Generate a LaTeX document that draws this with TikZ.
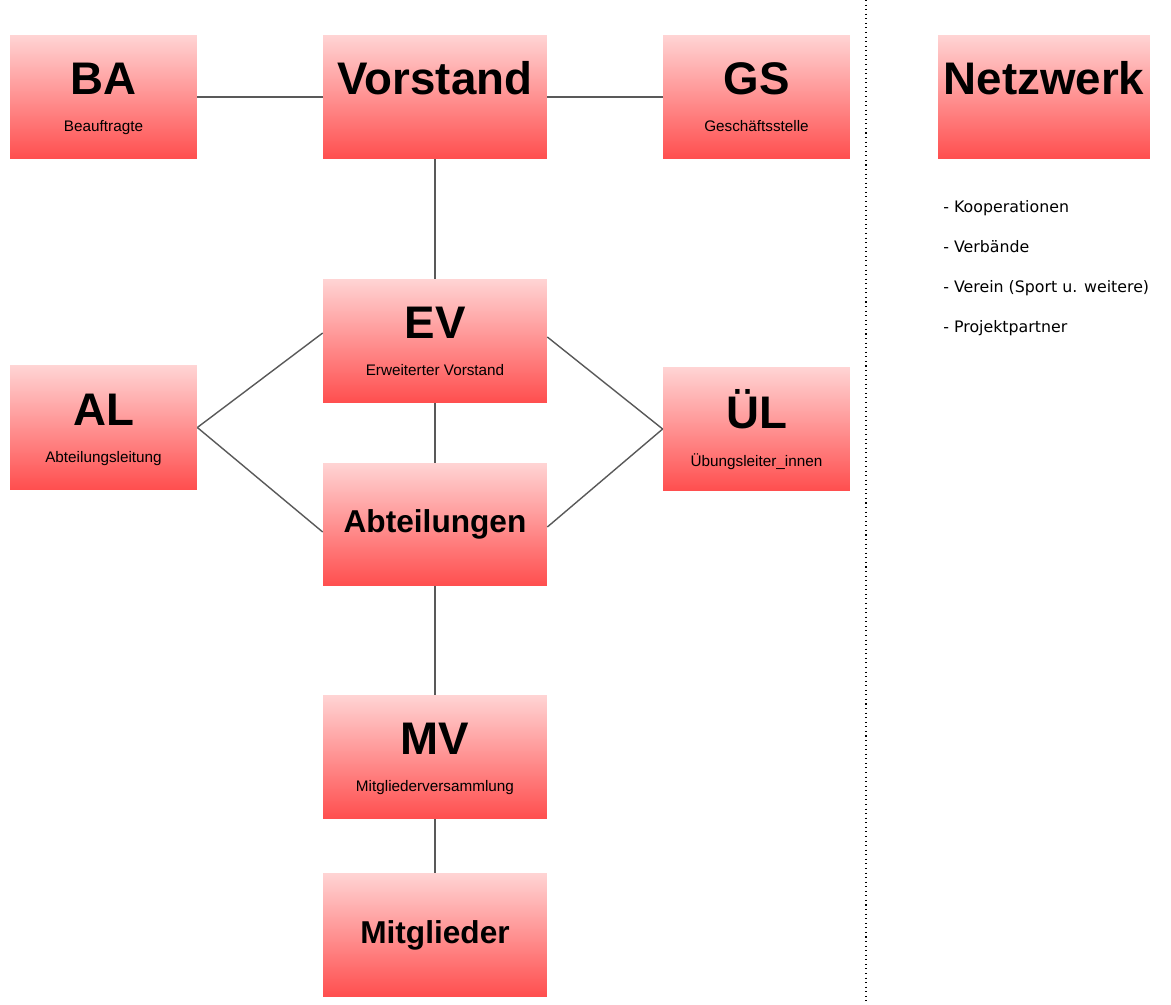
\documentclass[tikz,border=0pt]{standalone}
\usepackage{fontspec}
\setmainfont{Liberation Sans}
\newfontfamily\listfont{DejaVu Sans}
\definecolor{boxtop}{RGB}{255,212,212}
\definecolor{boxbot}{RGB}{255,78,78}
\tikzset{
  orgbox/.style={rectangle,inner sep=0pt,minimum width=3.74cm,minimum height=2.48cm,top color=boxtop,bottom color=boxbot},
  widebox/.style={orgbox,minimum width=4.48cm},
  bigtitle/.style={font=\fontsize{26}{30}\selectfont\bfseries,anchor=base},
  midtitle/.style={font=\fontsize{18}{22}\selectfont\bfseries},
  subtitle/.style={font=\fontsize{8.7}{10}\selectfont,anchor=base},
  listitem/.style={font=\listfont\fontsize{9}{11}\selectfont,anchor=base west,inner sep=0pt},
  link/.style={black!65,line width=0.8pt}
}
\begin{document}
\begin{tikzpicture}[x=0.02cm,y=-0.02cm]
\useasboundingbox (0,0) rectangle (1171,1005);
\node[orgbox] (ba) at (103.5,97) {};
\node[widebox] (vorstand) at (435,97) {};
\node[orgbox] (gs) at (756.5,97) {};
\node[orgbox,minimum width=4.24cm] (netz) at (1044,97) {};
\node[widebox] (ev) at (435,341) {};
\node[orgbox] (al) at (103.5,427.5) {};
\node[orgbox] (ul) at (756.5,429) {};
\node[widebox,minimum height=2.46cm] (abt) at (435,524.5) {};
\node[widebox] (mv) at (435,757) {};
\node[widebox] (mitgl) at (435,935) {};
\node[bigtitle] (ba-t) at ([yshift=-1.2cm]ba.north) {BA};
\node[subtitle] (ba-s) at ([yshift=-1.94cm]ba.north) {Beauftragte};
\node[bigtitle] (vorstand-t) at ([yshift=-1.2cm]vorstand.north) {Vorstand};
\node[bigtitle] (gs-t) at ([yshift=-1.2cm]gs.north) {GS};
\node[subtitle] (gs-s) at ([yshift=-1.94cm]gs.north) {Geschäftsstelle};
\node[bigtitle] (netz-t) at ([yshift=-1.2cm]netz.north) {Netzwerk};
\node[bigtitle] (ev-t) at ([yshift=-1.2cm]ev.north) {EV};
\node[subtitle] (ev-s) at ([yshift=-1.94cm]ev.north) {Erweiterter Vorstand};
\node[bigtitle] (al-t) at ([yshift=-1.2cm]al.north) {AL};
\node[subtitle] (al-s) at ([yshift=-1.94cm]al.north) {Abteilungsleitung};
\node[bigtitle] (ul-t) at ([yshift=-1.24cm]ul.north) {ÜL};
\node[subtitle] (ul-s) at ([yshift=-2cm]ul.north) {Übungsleiter\_innen};
\node[midtitle] (abt-t) at (abt.center) {Abteilungen};
\node[bigtitle] (mv-t) at ([yshift=-1.2cm]mv.north) {MV};
\node[subtitle] (mv-s) at ([yshift=-1.94cm]mv.north) {Mitgliederversammlung};
\node[midtitle] (mitgl-t) at (mitgl.center) {Mitglieder};
\draw[link] (ba) -- (vorstand);
\draw[link] (vorstand) -- (gs);
\draw[link] (vorstand) -- (ev);
\draw[link] (ev) -- (abt);
\draw[link] (abt) -- (mv);
\draw[link] (mv) -- (mitgl);
\draw[link] (al.east) -- ([yshift=0.16cm]ev.west);
\draw[link] (al.east) -- ([yshift=-0.15cm]abt.west);
\draw[link] (ul.west) -- ([yshift=0.08cm]ev.east);
\draw[link] (ul.west) -- ([yshift=-0.05cm]abt.east);
\coordinate (sep-top) at (866,0);
\coordinate (sep-bot) at (866,1005);
\draw[dotted,line width=0.6pt] (sep-top) -- (sep-bot);
\node[listitem] (li1) at (943,212) {- Kooperationen};
\node[listitem] (li2) at (943,252) {- Verbände};
\node[listitem] (li3) at (943,292) {- Verein (Sport u. weitere)};
\node[listitem] (li4) at (943,332) {- Projektpartner};
\end{tikzpicture}
\end{document}
